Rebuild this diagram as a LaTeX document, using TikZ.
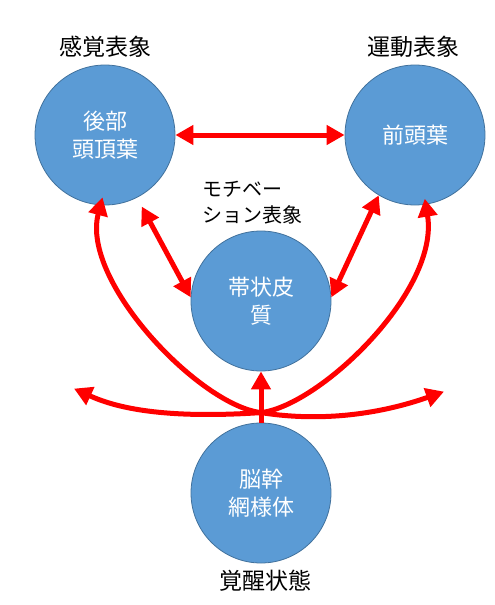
\documentclass[tikz,border=0pt]{standalone}
\usepackage{fontspec}
\setmainfont{Noto Sans CJK JP}
\usepackage{tikz}
\usetikzlibrary{arrows.meta,calc}
\definecolor{lobeblue}{HTML}{5B9BD5}
\definecolor{lobeedge}{HTML}{41719C}
\tikzstyle{lobe} = [circle, draw=lobeedge, line width=0.8pt, fill=lobeblue, text=white, align=center, minimum size=140pt, inner sep=0pt, font=\fontsize{22}{28}\selectfont]
\tikzstyle{caption} = [text centered, font=\fontsize{23}{28}\selectfont]
\tikzstyle{connector} = [line width=5pt, red, -{Triangle[length=18pt, width=19pt]}]
\tikzstyle{biconnector} = [connector, {Triangle[length=18pt, width=19pt]}-{Triangle[length=18pt, width=19pt]}]

\begin{document}
\begin{tikzpicture}[x=1pt, y=1pt, node distance=88pt]
        \useasboundingbox (0,0) rectangle (495,-605);
        \node (parietal) [lobe] at (105,-135) {後部\\頭頂葉};
        \node (frontal) [lobe] at (415,-135) {前頭葉};
        \node (cingulate) [lobe] at (261,-301) {帯状皮\\質};
        \node (brainstem) [lobe] at (261,-493) {脳幹\\網様体};
        \node (sense-label) [caption, above of = parietal] {感覚表象};
        \node (motor-label) [caption, above of = frontal, xshift = -2pt] {運動表象};
        \node (motive-label) [caption, align=left, font=\fontsize{20}{26}\selectfont, above of = cingulate, xshift = -9pt, yshift = 10pt] {モチベー\\ション表象};
        \node (arousal-label) [caption, below of = brainstem, xshift = 4pt] {覚醒状態};
        \coordinate (hub) at ($(brainstem.north)+(0,10)$);
        \draw [biconnector] (parietal.east) -- (frontal.west);
        \draw [biconnector, shorten <=10pt] (parietal.-63) -- (cingulate.177);
        \draw [biconnector] (frontal.-121) -- (cingulate.3);
        \draw [connector] (brainstem.north) -- (cingulate.south);
        \draw [connector] (hub) .. controls +(-61,7) and +(-22,-84) .. ([yshift=8pt]parietal.-92);
        \draw [connector] (hub) .. controls +(59,7) and +(15,-92) .. ([yshift=6pt]frontal.-82);
        \draw [connector] (hub) .. controls +(-91,-6) and +(46,-21) .. ($(hub)+(-187,24)$);
        \draw [connector] (hub) .. controls +(69,-11) and +(-54,-19) .. ($(hub)+(183,21)$);
    \end{tikzpicture}
\end{document}
